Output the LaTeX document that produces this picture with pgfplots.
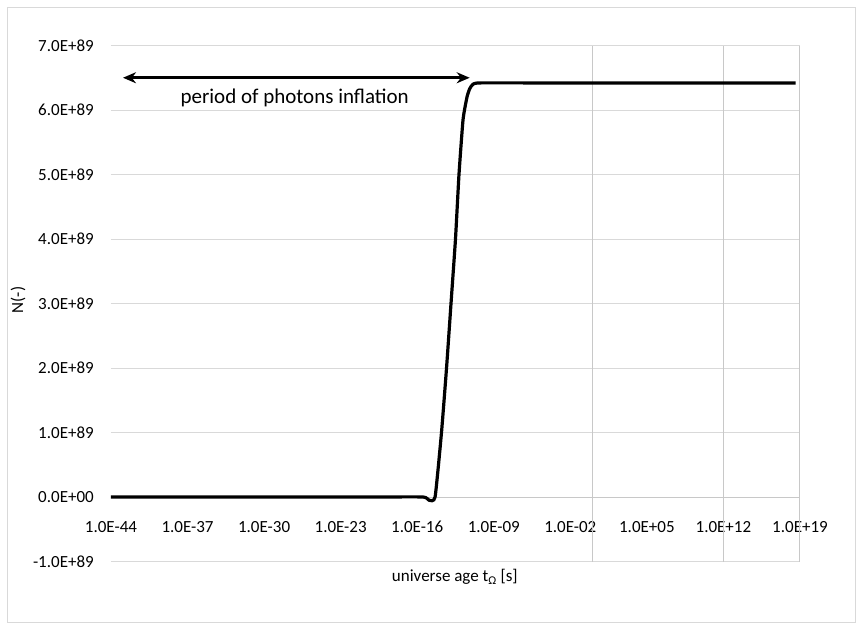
\documentclass[border=0pt]{standalone}
\usepackage{fontspec}
\setmainfont{Carlito}
\usepackage{pgfplots}
\pgfplotsset{compat=1.18}
\usetikzlibrary{arrows.meta}
\definecolor{gridc}{RGB}{217,217,217}
\definecolor{vgrid}{RGB}{200,200,200}
\begin{document}
\fontsize{16}{19}\selectfont
\begin{tikzpicture}[x=1pt,y=1pt]
\path[use as bounding box] (0,0) rectangle (863,630);
\draw[gridc, line width=1pt] (7.5,7.5) rectangle (855.5,622.5);
\begin{axis}[
  at={(111pt,68.5pt)}, anchor=south west, scale only axis,
  width=689pt, height=516pt,
  xmode=log, log basis x=10,
  xmin=1e-44, xmax=1e19, ymin=-1e89, ymax=7e89,
  scaled y ticks=false,
  xtick={1e-44,1e-37,1e-30,1e-23,1e-16,1e-9,1e-2,1e5,1e12,1e19},
  xticklabels={1.0E-44,1.0E-37,1.0E-30,1.0E-23,1.0E-16,1.0E-09,1.0E-02,1.0E+05,1.0E+12,1.0E+19},
  ytick={-1e89,0,1e89,2e89,3e89,4e89,5e89,6e89,7e89},
  yticklabels={-1.0E+89,0.0E+00,1.0E+89,2.0E+89,3.0E+89,4.0E+89,5.0E+89,6.0E+89,7.0E+89},
  axis line style={draw=none},
  major tick length=0pt,
  ymajorgrids, grid style={gridc, line width=1pt},
  tick label style={font=\fontsize{17}{20}\selectfont},
  xticklabel style={yshift=46pt},
  yticklabel style={xshift=-11.7pt},
  xlabel={universe age t\textsubscript{Ω} [s]},
  ylabel={N(-)},
  every axis x label/.style={at={(axis description cs:0.499,-0.03)}, anchor=center, font=\fontsize{17}{20}\selectfont},
  every axis y label/.style={at={(axis description cs:-0.135,0.507)}, rotate=90, anchor=center, font=\fontsize{17}{20}\selectfont},
  clip=false,
]
\addplot[vgrid, line width=1pt] coordinates {(1e-44,0) (1e19,0)};
\addplot[vgrid, line width=1pt] coordinates {(1,-1e89) (1,7e89)};
\addplot[vgrid, line width=1pt] coordinates {(1e12,-1e89) (1e12,7e89)};
\addplot[vgrid, line width=1pt] coordinates {(1e19,-1e89) (1e19,7e89)};
\addplot[black, line width=3.2pt, smooth, tension=0.3] coordinates {
  (1e-44,0)
  (1e-30,0)
  (1e-20,0)
  (3.4e-16,0)
  (1.2e-15,-0.05e89)
  (4.3e-15,0)
  (1.66e-14,1.0e89)
  (4.8e-14,2.0e89)
  (1.23e-13,3.0e89)
  (3.16e-13,4.0e89)
  (6.6e-13,5.0e89)
  (1.55e-12,5.85e89)
  (3.55e-12,6.2e89)
  (6.3e-12,6.33e89)
  (1.26e-11,6.40e89)
  (5.5e-11,6.42e89)
  (1e-5,6.42e89)
  (1e5,6.42e89)
  (4e18,6.42e89)
};
\addplot[black, line width=2.8pt, {Stealth[length=13pt,width=11pt]}-{Stealth[length=13pt,width=11pt]}] coordinates {(1.26e-43,6.5e89) (6.3e-12,6.5e89)};
\node[font=\fontsize{21}{25}\selectfont] at (axis cs:6.3e-28,6.19e89) {period of photons inflation};
\end{axis}
\end{tikzpicture}
\end{document}
